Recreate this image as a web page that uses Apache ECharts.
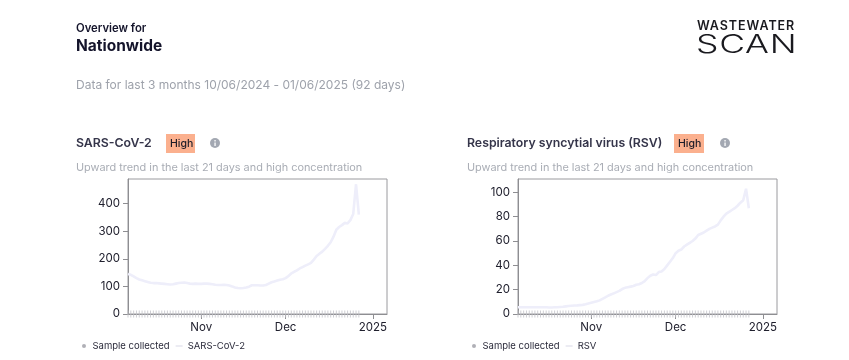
<!DOCTYPE html>
<html>
<head>
<meta charset="utf-8">
<style>
html,body{margin:0;padding:0;background:#fff;}
#chart{position:absolute;left:0;top:0;width:849px;height:360px;}
.logo{position:absolute;color:#1a1a1f;white-space:nowrap;transform-origin:0 0;}
#l1{left:697px;top:18px;font:600 12.5px/16px Inter,sans-serif;letter-spacing:.95px;}
#l2{left:696px;top:29px;font:300 25px/30px Inter,sans-serif;transform:scaleX(1.42);letter-spacing:.5px;}
</style>
</head>
<body>
<div id="chart"></div>
<div class="logo" id="l1">WASTEWATER</div>
<div class="logo" id="l2">SCAN</div>
<script src="https://cdn.jsdelivr.net/npm/echarts@6/dist/echarts.min.js"></script>
<script>
const startDay = [2024, 9, 6];
const covValues = [145,142,136,130,125,122,119,116,113,112,112,111,110,109,108,107,108,110,112,113,114,112,110,109,110,109,
  109,110,110,109,108,106,105,105,106,105,103,100,96,94,93,94,96,99,104,104,104,103,103,105,110,115,118,121,124,126,
  130,138,147,153,158,165,170,175,180,185,197,210,218,226,236,247,260,280,305,315,322,330,328,340,362,470,360];
const rsvValues = [5.5,5.6,5.6,5.5,5.5,5.5,5.6,5.6,5.5,5.5,5.5,5.4,5.4,5.5,5.6,5.8,6,6.3,6.6,6.8,7,7.1,7.3,7.5,8,8.6,
  9.2,9.8,10.4,11.2,12.4,13.6,15,16,17,18,19,20.5,21.5,22,22.5,23,24,24.5,25.5,27,29.5,31.5,32.5,32,34.5,35,37,40,43,46,
  50,52,53,55.5,57,58.5,60,62,65,66,67,68.5,70,71,72,73.5,77,80,82.5,84,85.5,87,89,91.5,93.5,103,87];
const covTicks = [0,100,200,300,400];
const rsvTicks = [0,20,40,60,80,100];
const xTickDates = [[2024,10,1],[2024,11,1],[2025,0,1]];
const xTickLabels = ['Nov','Dec','2025'];
const xRange = [[2024,9,6],[2025,0,6]];
const names = {sample:'Sample collected', cov:'SARS-CoV-2', rsv:'RSV'};

const DAY = 86400000;
const t0 = Date.UTC(...startDay);
const toSeries = vals => vals.map((v,i)=>[t0+i*DAY, v]);
const rug = vals => vals.map((v,i)=>[t0+i*DAY, 0]);
const xTicks = xTickDates.map(d=>Date.UTC(...d));
const textDark = '#20202e', axisGrey = '#8e8e92', lineCol = '#eeeefa', rugCol = '#c2c2c8';

function xAxis(gi){
  return {type:'value',gridIndex:gi,min:Date.UTC(...xRange[0]),max:Date.UTC(...xRange[1]),
    axisLine:{lineStyle:{color:axisGrey,width:1}},
    axisTick:{show:true,length:5,lineStyle:{color:axisGrey},customValues:xTicks},
    axisLabel:{show:true,customValues:xTicks,margin:8,color:textDark,fontFamily:'Inter',fontSize:11.5,hideOverlap:false,
      formatter:v=>xTickLabels[xTicks.indexOf(+v)]||''},
    splitLine:{show:false}};
}
function yAxis(gi,max,ticks){
  return {type:'value',gridIndex:gi,min:0,max:max,
    axisLine:{show:true,lineStyle:{color:axisGrey,width:1}},
    axisTick:{show:true,length:5,lineStyle:{color:axisGrey},customValues:ticks},
    axisLabel:{customValues:ticks,margin:8,color:textDark,fontFamily:'Inter',fontSize:11.5},
    splitLine:{show:false}};
}
function lineS(name,vals,i){
  return {type:'line',name:name,xAxisIndex:i,yAxisIndex:i,data:toSeries(vals),showSymbol:false,symbol:'none',
    lineStyle:{color:lineCol,width:2.6},itemStyle:{color:lineCol},z:3,silent:true};
}
function rugS(vals,i){
  return {type:'scatter',name:names.sample,xAxisIndex:i,yAxisIndex:i,data:rug(vals),symbol:'rect',symbolSize:[1,7],
    itemStyle:{color:rugCol},clip:true,z:2,silent:true};
}
function legend(left,lineName){
  return {left:left,top:341,selectedMode:false,itemWidth:7,itemHeight:4,itemGap:6,padding:0,
    textStyle:{color:'#2c2c3c',fontFamily:'Inter',fontSize:9.5,padding:[0,0,0,0]},
    data:[{name:names.sample,icon:'circle',itemStyle:{color:'#9c9ca4'}},
          {name:lineName,icon:'path://M0 -1.5L0 -1.5M0 0H10V1H0ZM0 2.5L0 2.5',itemStyle:{color:'#c8c8dc'}}]};
}
function txt(x,y,s,size,weight,fill){
  return {type:'text',left:x,top:y,silent:true,
    style:{text:s,fontSize:size,fontWeight:weight,fill:fill,fontFamily:'Inter'}};
}
function badge(x,w){
  return [{type:'rect',left:x,top:134,silent:true,shape:{width:w,height:19},style:{fill:'#fbb08e'}},
          txt(x+4,138,'High',10.5,500,'#1c1c28')];
}
function info(x){
  return [{type:'circle',left:x-5,top:138,silent:true,shape:{r:5},style:{fill:'#a3a8b2'}},
          {type:'rect',left:x-.6,top:142.5,silent:true,shape:{width:1.3,height:3.5},style:{fill:'#fff'}},
          {type:'rect',left:x-.6,top:140,silent:true,shape:{width:1.3,height:1.4},style:{fill:'#fff'}}];
}
const sub='Upward trend in the last 21 days and high concentration';
const chart = echarts.init(document.getElementById('chart'),null,{renderer:'canvas'});
chart.setOption({
  animation:false,backgroundColor:'#fff',
  grid:[{left:128,top:179,width:259,height:135,show:true,borderColor:'#9a9a9e',borderWidth:1,backgroundColor:'transparent'},
        {left:518,top:179,width:259,height:135,show:true,borderColor:'#9a9a9e',borderWidth:1,backgroundColor:'transparent'}],
  xAxis:[xAxis(0),xAxis(1)],
  yAxis:[yAxis(0,489,covTicks),yAxis(1,111,rsvTicks)],
  series:[rugS(covValues,0),lineS(names.cov,covValues,0),rugS(rsvValues,1),lineS(names.rsv,rsvValues,1)],
  legend:[legend(82,names.cov),legend(472,names.rsv)],
  graphic:[
    txt(76,23,'Overview for',11.3,600,'#14142b'),
    txt(76,38,'Nationwide',15.5,700,'#14142b'),
    txt(76,79,'Data for last 3 months 10/06/2024 - 01/06/2025 (92 days)',12,400,'#9ea2ab'),
    txt(76,137,'SARS-CoV-2',12.3,600,'#35354a'),
    ...badge(166,29),...info(215),
    txt(76,162,sub,10.9,400,'#a9adb5'),
    txt(467,137,'Respiratory syncytial virus (RSV)',12.3,600,'#35354a'),
    ...badge(674,30),...info(725),
    txt(467,162,sub,10.9,400,'#a9adb5')
  ]
});
</script>
</body>
</html>
